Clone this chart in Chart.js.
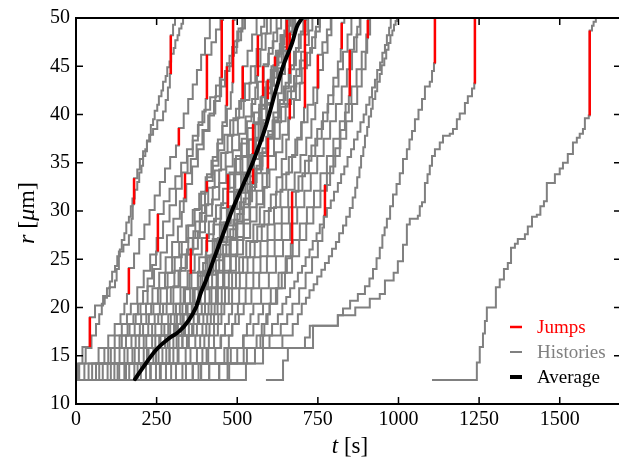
<!DOCTYPE html>
<html>
<head>
<meta charset="utf-8">
<script src="https://cdn.jsdelivr.net/npm/chart.js@4.4.1/dist/chart.umd.min.js"></script>
<style>
html,body{margin:0;padding:0;background:#fff;overflow:hidden}
#wrap{width:624px;height:470px}
</style>
</head>
<body>
<div id="wrap"><canvas id="chart" width="624" height="470"></canvas></div>
<script>
// axis ticks
const xTicks=[0,250,500,750,1000,1250,1500];
const yTicks=[10,15,20,25,30,35,40,45,50];

// average curve
const avgT=[183,208,248,288,319,350,372,388,403,425,456,487,518,549,586,617,642,670,685,701];
const avgR=[12.57,13.8,15.6,16.8,17.5,18.7,20.0,21.6,22.8,24.8,27.6,30.3,32.7,35.1,38.5,42.2,45.0,47.4,49.1,50];

// growth histories: [t, r] or [t, r, 1] when the step is a jump
const h01=[[0,12.5],[6,14.2],[20,15.9],[43,19.0,1],[59,20.2],[84,21.2],[104,22.1],[121,22.8],[126,24.0],[133,25.8],[147,26.5],[164,27.5],[172,29.2],[176,30.7],[180,33.4,1],[190,34.3],[198,35.4],[208,36.2],[220,37.2],[230,37.9],[239,38.5],[252,39.4],[270,40.3],[278,41.5],[285,42.8],[291,44.2],[294,48.2,1],[301,49.3],[307,50]];
const h02=[[0,12.5],[10,14.2],[30,15.8],[48,17.1],[62,18.3],[72,19.3],[80,20.4],[89,21.0],[96,22.0],[105,22.7],[112,23.7],[121,24.3],[128,25.3],[136,26.0],[142,27.0],[150,27.7],[156,28.8],[164,29.4],[170,30.5],[175,31.3],[182,32.2],[190,33.0],[196,34.0],[203,34.7],[208,35.7],[215,36.4],[220,37.3],[227,37.9],[232,38.9],[239,39.5],[244,40.4],[252,41.0],[257,41.9],[265,42.5],[270,43.4],[278,44.0],[283,44.9],[290,45.5],[295,46.3],[303,46.9],[308,47.7],[315,48.2],[320,48.9],[327,49.4],[332,50]];
const h03=[[0,12.5],[26,14.2],[70,15.8],[100,17.1],[120,18.3],[138,19.3],[150,20.4],[158,21.4],[164,24.1,1],[180,25.6],[196,27.1],[212,28.6],[228,30.1],[244,31.6],[260,33.0],[276,34.4],[292,35.6],[310,36.8],[319,38.6,1],[334,40.1],[348,41.6],[362,43.1],[375,44.6],[388,46.2],[400,47.9],[415,50]];
const h04=[[0,12.5],[39,14.2],[88,15.8],[120,17.1],[142,18.3],[158,19.3],[170,20.4],[190,22.1],[210,23.8],[230,25.5],[250,27.2],[270,28.9],[290,30.6],[310,32.3],[328,34.0],[346,35.7],[362,37.3],[378,38.9],[392,40.3],[402,41.6],[406,46.2,1],[420,47.5],[434,48.8],[448,50]];
const h05=[[0,12.5],[50,14.2],[100,15.8],[135,17.1],[160,18.3],[178,19.3],[192,20.4],[208,21.7],[222,23.0],[236,24.4],[248,25.8],[254,29.7,1],[272,31.0],[290,32.3],[308,33.6],[326,35.0],[344,36.4],[362,37.8],[380,39.2],[398,40.5],[416,41.8],[434,43.0],[446,43.8],[452,49.8,1],[456,50]];
const h06=[[0,12.5],[62,14.2],[108,15.8],[142,17.1],[166,18.3],[185,19.3],[200,20.4],[222,22.2],[242,24.0],[262,25.7],[282,27.5],[302,29.2],[322,31.0],[342,32.8],[360,34.6],[378,36.4],[396,38.3],[414,40.1],[432,41.9],[450,43.6],[468,45.3],[484,47.0],[500,48.6],[516,50]];
const h07=[[0,12.5],[72,14.2],[120,15.8],[155,17.1],[182,18.3],[202,19.3],[217,20.4],[237,22.0],[258,23.6],[278,25.2],[298,26.8],[316,28.4],[328,29.9],[334,31.3],[338,33.9,1],[356,35.4],[374,36.9],[392,38.4],[410,39.9],[428,41.4],[446,42.9],[462,44.5],[476,46.1],[490,47.6],[504,48.9],[517,50]];
const h08=[[0,12.5],[83,14.2],[135,15.8],[172,17.1],[198,18.3],[218,19.3],[233,20.4],[254,22.0],[276,23.6],[298,25.2],[320,26.8],[342,28.5],[362,30.1],[382,31.8],[402,33.5],[420,35.2],[438,37.0],[454,38.8],[468,40.6],[480,42.3],[485,43.3],[487,49.8,1],[492,50]];
const h09=[[0,12.5],[98,14.2],[150,15.8],[185,17.1],[208,18.3],[226,19.3],[240,20.4],[262,22.0],[284,23.6],[306,25.2],[328,26.8],[348,28.5],[368,30.2],[388,32.0],[406,33.8],[424,35.6],[440,37.4],[454,39.2],[464,40.9],[468,45.0,1],[484,46.4],[498,47.7],[512,48.9],[524,50]];
const h10=[[0,12.5],[108,14.2],[160,15.8],[196,17.1],[224,18.3],[244,19.3],[260,20.4],[282,22.1],[305,23.8],[326,25.5],[348,27.2],[370,28.9],[390,30.6],[410,32.4],[430,34.2],[450,36.0],[470,37.8],[488,39.6],[506,41.4],[524,43.2],[542,45.0],[560,46.8],[576,48.4],[592,50]];
const h11=[[0,12.5],[119,14.2],[175,15.8],[210,17.1],[236,18.3],[255,19.3],[270,20.4],[294,22.1],[318,23.8],[340,25.5],[362,27.2],[384,28.9],[404,30.7],[424,32.5],[444,34.3],[464,36.1],[484,37.9],[502,39.7],[520,41.5],[538,43.3],[556,45.0],[572,46.7],[588,48.4],[604,50]];
const h12=[[0,12.5],[129,14.2],[182,15.8],[218,17.1],[246,18.3],[266,19.3],[281,20.4],[302,22.2],[323,24.1],[344,26.0],[364,27.9],[384,29.8],[400,32.0],[406,33.1,1],[424,34.7],[442,36.3],[460,37.9],[478,39.4],[496,40.6],[512,41.6],[517,45.0,1],[532,46.6],[546,48.3],[560,50]];
const h13=[[0,12.5],[134,14.2],[195,15.8],[236,17.1],[265,18.3],[286,19.3],[302,20.4],[324,22.1],[346,23.8],[368,25.5],[390,27.2],[412,28.9],[434,30.6],[456,32.3],[476,34.0],[496,35.7],[514,37.5],[530,39.3],[544,41.1],[556,42.8],[561,44.0],[564,48.2,1],[574,49.1],[584,50]];
const h14=[[0,12.5],[150,14.2],[210,15.8],[246,17.1],[274,18.3],[294,19.3],[310,20.4],[334,22.0],[358,23.6],[382,25.2],[404,26.9],[426,28.6],[448,30.3],[470,32.0],[490,33.8],[510,35.6],[530,37.4],[550,39.2],[568,41.0],[586,42.8],[604,44.6],[620,46.4],[636,48.2],[652,50]];
const h15=[[0,12.5],[155,14.2],[220,15.8],[258,17.1],[286,18.3],[306,19.3],[322,20.4],[338,21.9],[352,23.5],[356,26.1,1],[378,27.8],[400,29.5],[422,31.2],[444,32.9],[466,34.6],[486,36.3],[506,38.0],[526,39.8],[546,41.6],[564,43.4],[582,45.2],[598,46.9],[612,48.5],[622,50]];
const h16=[[0,12.5],[165,14.2],[225,15.8],[262,17.1],[292,18.3],[313,19.3],[330,20.4],[354,22.0],[378,23.7],[402,25.4],[424,27.1],[446,28.8],[468,30.5],[490,32.2],[512,34.0],[532,35.8],[552,37.6],[572,39.4],[590,41.2],[608,43.0],[626,44.8],[644,46.6],[660,48.3],[676,50]];
const h17=[[0,12.5],[181,14.2],[240,15.8],[276,17.1],[304,18.3],[324,19.3],[341,20.4],[364,22.0],[386,23.6],[408,25.2],[430,26.9],[452,28.6],[474,30.3],[494,32.0],[514,33.8],[534,35.6],[552,37.4],[566,39.6],[576,41.9],[580,45.0,1],[596,46.3],[610,47.6],[624,48.9],[636,50]];
const h18=[[0,12.5],[191,14.2],[248,15.8],[284,17.1],[310,18.3],[330,19.3],[344,20.4],[368,22.0],[392,23.6],[414,25.3],[436,27.0],[458,28.7],[480,30.4],[500,32.1],[520,33.8],[540,35.5],[558,37.3],[576,39.1],[592,41.0],[606,43.0],[614,45.0],[617,46.0,1],[632,47.3],[646,48.7],[661,50]];
const h19=[[0,12.5],[201,14.2],[256,15.8],[290,17.1],[316,18.3],[334,19.3],[346,20.4],[362,21.9],[378,23.3],[394,24.6],[403,25.8],[406,27.6,1],[428,29.2],[450,30.8],[472,32.4],[494,34.0],[516,35.7],[536,37.4],[556,39.1],[574,40.9],[592,42.7],[608,44.5],[624,46.3],[640,48.1],[655,50]];
const h20=[[0,12.5],[217,14.2],[268,15.8],[302,17.1],[328,18.3],[346,19.3],[359,20.4],[382,22.0],[404,23.6],[426,25.2],[448,26.8],[470,28.5],[492,30.2],[512,31.9],[532,33.6],[552,35.4],[568,37.3],[580,39.4],[592,41.6],[595,43.6,1],[612,45.1],[628,46.6],[644,48.1],[656,49.2],[666,50]];
const h21=[[0,12.5],[232,14.2],[280,15.8],[312,17.1],[334,18.3],[350,19.3],[361,20.4],[380,22.1],[400,23.8],[420,25.5],[440,27.2],[458,28.8],[468,30.3],[471,33.8,1],[492,35.4],[512,37.0],[532,38.6],[552,40.2],[572,41.8],[590,43.4],[606,45.0],[620,46.6],[634,48.2],[651,50]];
const h22=[[0,12.5],[248,14.2],[290,15.8],[318,17.1],[338,18.3],[352,19.3],[362,20.4],[386,21.9],[410,23.4],[434,24.9],[456,26.5],[478,28.1],[500,29.7],[520,31.3],[540,33.0],[560,34.7],[578,36.5],[596,38.3],[612,40.2],[626,42.2],[638,44.2],[648,46.0],[652,46.7],[654,49.8,1],[658,50]];
const h23=[[0,12.5],[263,14.2],[302,15.8],[330,17.1],[350,18.3],[365,19.3],[377,20.4],[400,22.1],[422,23.8],[444,25.5],[466,27.3],[488,29.1],[508,30.9],[526,32.8],[540,34.6],[546,35.9],[549,39.0,1],[568,40.6],[586,42.2],[604,43.8],[622,45.4],[638,47.0],[654,48.6],[671,50]];
const h24=[[0,12.5],[279,14.2],[318,15.8],[344,17.1],[364,18.3],[378,19.3],[390,20.4],[414,22.0],[436,23.6],[456,25.3],[476,27.0],[496,28.7],[516,30.4],[536,32.1],[555,33.9],[574,35.7],[592,37.5],[610,39.3],[627,41.1],[644,42.9],[660,44.7],[676,46.5],[691,48.3],[705,50]];
const h25=[[0,12.5],[230,14.2],[290,15.8],[330,17.1],[360,18.3],[382,19.3],[400,20.4],[420,22.1],[440,23.8],[460,25.5],[480,27.2],[500,28.9],[520,30.7],[540,32.5],[559,34.3],[578,36.1],[596,37.9],[614,39.7],[632,41.5],[650,43.3],[666,45.1],[682,46.9],[697,48.6],[712,50]];
const h26=[[0,12.5],[260,14.2],[315,15.8],[350,17.1],[375,18.3],[395,19.3],[411,20.4],[434,22.1],[456,23.8],[478,25.5],[500,27.3],[520,29.1],[538,31.0],[546,32.8],[549,34.4,1],[570,36.0],[590,37.7],[610,39.4],[628,41.1],[646,42.7],[660,44.2],[663,48.5,1],[672,49.3],[680,50]];
const h27=[[0,12.5],[295,14.2],[340,15.8],[370,17.1],[392,18.3],[407,19.3],[420,20.4],[440,22.0],[460,23.6],[480,25.3],[500,27.0],[520,28.7],[540,30.4],[560,32.1],[578,33.9],[596,35.7],[614,37.5],[632,39.3],[650,41.1],[667,42.9],[683,44.7],[698,46.5],[710,48.3],[720,50]];
const h28=[[0,12.5],[310,14.2],[355,15.8],[385,17.1],[404,18.3],[418,19.3],[430,20.4],[452,22.1],[474,23.8],[496,25.5],[518,27.2],[540,28.9],[560,30.7],[580,32.5],[600,34.3],[620,36.1],[640,37.9],[658,39.7],[676,41.5],[694,43.3],[710,45.1],[726,46.9],[742,48.6],[756,50]];
const h29=[[0,12.5],[341,14.2],[375,15.8],[398,17.1],[414,18.3],[428,19.3],[439,20.4],[462,22.0],[484,23.6],[506,25.2],[528,26.9],[550,28.6],[570,30.4],[584,32.4],[592,34.4],[595,37.6,1],[616,39.2],[636,40.8],[656,42.4],[676,44.0],[694,45.6],[710,47.2],[722,48.7],[733,50]];
const h30=[[0,12.5],[362,14.2],[392,15.8],[412,17.1],[428,18.3],[441,19.3],[451,20.4],[474,22.0],[496,23.6],[518,25.2],[540,26.8],[562,28.4],[584,30.0],[604,31.7],[622,33.5],[638,35.4],[652,37.4],[660,39.5],[663,41.6,1],[682,43.2],[700,44.8],[716,46.4],[732,48.0],[744,49.1],[756,50]];
const h31=[[0,12.5],[388,14.2],[410,15.8],[428,17.1],[440,18.3],[451,19.3],[460,20.4],[484,22.0],[508,23.6],[532,25.2],[554,26.9],[576,28.6],[598,30.3],[620,32.0],[640,33.8],[660,35.6],[680,37.4],[700,39.2],[718,41.0],[736,42.8],[752,44.6],[766,46.4],[780,48.2],[792,50]];
const h32=[[0,12.5],[413,14.2],[432,15.8],[448,17.1],[462,18.3],[474,19.3],[484,20.4],[506,22.0],[528,23.6],[550,25.2],[572,26.9],[594,28.6],[614,30.4],[634,32.2],[652,34.0],[670,35.8],[686,37.6],[698,39.2],[707,40.7],[710,49.8,1],[714,50]];
const h33=[[0,12.5],[444,14.2],[460,15.8],[474,17.1],[485,18.3],[494,19.3],[502,20.4],[526,22.0],[550,23.6],[572,25.3],[594,27.0],[616,28.7],[638,30.4],[658,32.2],[678,34.0],[696,35.8],[714,37.6],[730,39.5],[742,41.2],[748,42.7],[750,46.2,1],[764,47.5],[778,48.8],[790,50]];
const h34=[[0,12.5],[330,14.2],[405,15.8],[450,17.1],[484,18.3],[505,19.3],[520,20.4],[544,22.0],[568,23.6],[592,25.3],[616,27.0],[638,28.7],[660,30.4],[682,32.1],[702,33.9],[722,35.7],[742,37.5],[762,39.3],[780,41.1],[798,42.9],[814,44.7],[828,46.5],[842,48.3],[854,50]];
const h35=[[0,12.5],[475,14.2],[500,15.8],[518,17.1],[530,18.3],[541,19.3],[550,20.4],[574,22.0],[598,23.6],[620,25.3],[642,27.0],[664,28.7],[686,30.4],[708,32.1],[728,33.9],[748,35.7],[768,37.5],[788,39.3],[806,41.1],[824,42.9],[840,44.7],[856,46.5],[870,48.3],[882,50]];
const h36=[[0,12.5],[388,14.2],[470,15.8],[520,17.1],[550,18.3],[566,19.3],[580,20.4],[604,22.0],[628,23.6],[650,25.3],[672,27.0],[694,28.7],[716,30.4],[738,32.1],[758,33.9],[778,35.7],[798,37.5],[818,39.3],[836,41.1],[854,42.9],[870,44.7],[886,46.5],[900,48.3],[912,50]];
const h37=[[0,12.5],[470,14.2],[530,15.8],[560,17.1],[576,18.3],[590,19.3],[600,20.4],[624,22.0],[648,23.6],[670,25.3],[692,27.0],[714,28.7],[736,30.4],[758,32.1],[778,33.9],[798,35.7],[818,37.5],[838,39.3],[856,41.1],[872,42.9],[886,44.7],[898,46.4],[903,47.9],[905,49.8,1],[910,50]];
const h38=[[0,12.5],[527,14.2],[555,15.8],[572,17.1],[584,18.3],[594,19.3],[601,20.4],[620,22.0],[638,23.6],[654,25.1],[666,26.6],[670,32.0,1],[690,33.6],[710,35.2],[730,36.8],[748,38.5],[766,40.2],[782,42.0],[798,43.8],[812,45.5],[821,46.8],[824,49.5,1],[832,50]];
const h39=[[0,12.5],[444,14.2],[520,15.8],[580,17.1],[608,18.3],[626,19.3],[640,20.4],[652,21.1],[664,22.0],[677,22.7],[688,23.6],[701,24.3],[712,25.2],[724,26.0],[734,26.9],[746,27.7],[756,28.6],[768,29.4],[778,30.3],[790,31.1],[800,32.0],[812,32.9],[822,33.8],[832,34.6],[842,35.6],[853,36.4],[862,37.4],[873,38.2],[882,39.2],[892,40.0],[900,41.0],[910,41.8],[918,42.8],[927,43.6],[934,44.6],[943,45.4],[950,46.4],[958,47.2],[964,48.2],[971,49.0],[976,50]];
const h40=[[0,12.5],[362,14.2],[480,15.8],[600,17.1],[635,18.3],[655,19.3],[671,20.4],[692,22.0],[712,23.6],[732,25.2],[750,26.9],[764,28.3],[769,29.5],[772,32.7,1],[788,34.6],[804,36.5],[820,38.4],[834,40.2],[846,41.9],[849,46.7,1],[862,48.0],[872,49.1],[880,50]];
const h41=[[0,12.5],[413,14.2],[580,15.8],[640,17.1],[672,18.3],[688,19.3],[700,20.4],[713,21.0],[724,21.8],[737,22.4],[748,23.2],[761,23.9],[772,24.6],[784,25.3],[794,26.1],[806,26.8],[816,27.7],[828,28.5],[838,29.4],[849,30.3],[858,31.4],[866,32.4],[872,33.5],[879,34.5],[884,35.7],[891,36.6],[896,37.8],[903,38.7],[908,39.8],[915,40.6],[920,41.6],[928,42.4],[934,43.4],[942,44.2],[948,45.1],[956,45.8],[962,46.7],[969,47.4],[975,48.2],[981,48.7],[986,49.3],[991,49.7],[995,50]];
const farA=[[589,12.5],[642,14.5],[657,15.8],[710,16.9],[725,18.1],[812,19.2],[828,19.9],[850,20.7],[874,21.4],[896,22.2],[910,23.0],[921,24.0],[932,25.1],[942,26.2],[950,27.5],[957,28.3],[964,29.2],[974,30.5],[983,31.7],[994,32.8],[1004,33.9],[1014,35.4],[1026,36.4],[1034,37.4],[1042,38.3],[1051,39.5],[1062,40.5],[1073,41.6],[1082,42.9],[1097,43.4],[1104,44.5],[1110,45.3],[1113,50,1]];
const farB=[[0,12.5],[380,14.2],[470,15.8],[735,18.1],[812,19.2],[866,20.0],[911,20.9],[942,21.4],[958,22.8],[985,23.6],[998,24.8],[1014,26.5],[1026,28.6],[1035,29.2],[1060,29.5],[1066,30.5],[1073,30.9],[1082,32.9],[1090,33.8],[1097,34.7],[1104,35.7],[1113,36.4],[1128,37.1],[1138,37.8],[1159,38.0],[1169,38.5],[1181,39.5],[1190,40.1],[1206,41.2],[1215,41.9],[1228,42.7],[1235,43.2],[1237,50,1]];
const farC=[[1104,12.5],[1243,14.3],[1252,15.9],[1262,17.3],[1268,18.6],[1274,20.0],[1302,22.1],[1314,22.9],[1327,24.0],[1339,24.6],[1349,26.2],[1361,26.6],[1370,27.1],[1392,27.6],[1401,28.4],[1414,29.4],[1429,29.6],[1440,30.5],[1451,31.0],[1460,32.9],[1485,33.8],[1500,34.4],[1510,35.0],[1525,35.9],[1541,37.1],[1553,37.6],[1562,38.0],[1572,38.5],[1578,39.6],[1590,39.9],[1593,48.7,1],[1600,49.2],[1605,49.6],[1612,50]];

const histories=[h01,h02,h03,h04,h05,h06,h07,h08,h09,h10,h11,h12,h13,h14,h15,h16,h17,h18,h19,h20,
  h21,h22,h23,h24,h25,h26,h27,h28,h29,h30,h31,h32,h33,h34,h35,h36,h37,h38,h39,h40,h41,farA,farB,farC];

const GRAY='#808080', RED='#ff0000', FONT='"Liberation Serif","DejaVu Serif",serif';
Chart.defaults.font.family=FONT;

const xy=p=>({x:p[0],y:p[1]});
const datasets=[];
datasets.push({label:'Average',data:avgT.map((t,i)=>({x:t,y:avgR[i]})),borderColor:'#000',borderWidth:4,
  tension:0.4,cubicInterpolationMode:'monotone',borderCapStyle:'round',order:0});
histories.forEach(h=>{
  datasets.push({label:'Histories',data:h.map(xy),borderColor:GRAY,borderWidth:2,stepped:true,order:2});
  for(let i=1;i<h.length;i++){
    if(h[i][2]) datasets.push({label:'Jumps',data:[{x:h[i][0],y:h[i-1][1]},{x:h[i][0],y:h[i][1]}],borderColor:RED,borderWidth:2.5,order:1});
  }
});

// spines, inward ticks, axis titles and legend
const frame={
  id:'frame',
  afterDraw(chart){
    const {ctx,chartArea:a,scales:{x,y}}=chart;
    ctx.save();
    ctx.strokeStyle='#000';
    ctx.lineWidth=1.5;
    ctx.beginPath();
    xTicks.forEach(v=>{const px=x.getPixelForValue(v);ctx.moveTo(px,a.bottom);ctx.lineTo(px,a.bottom-7);ctx.moveTo(px,a.top);ctx.lineTo(px,a.top+7);});
    yTicks.forEach(v=>{const py=y.getPixelForValue(v);ctx.moveTo(a.left,py);ctx.lineTo(a.left+7,py);ctx.moveTo(a.right,py);ctx.lineTo(a.right-7,py);});
    ctx.stroke();
    ctx.lineWidth=2;
    ctx.strokeRect(a.left,a.top,a.right-a.left,a.bottom-a.top);

    // x title: t [s]
    ctx.fillStyle='#000';
    ctx.textBaseline='alphabetic';
    ctx.font='italic 23px '+FONT;
    const wt=ctx.measureText('t').width;
    ctx.font='23px '+FONT;
    const ws=ctx.measureText(' [s]').width;
    const sx=350-(wt+ws)/2;
    ctx.font='italic 23px '+FONT; ctx.fillText('t',sx,453);
    ctx.font='23px '+FONT; ctx.fillText(' [s]',sx+wt,453);

    // y title: r [μm]
    ctx.save();
    ctx.translate(34,213);
    ctx.rotate(-Math.PI/2);
    const parts=[['r',true],[' [',false],['μ',true],['m]',false]];
    let tot=0;
    parts.forEach(p=>{ctx.font=(p[1]?'italic ':'')+'24px '+FONT;tot+=ctx.measureText(p[0]).width;});
    let cx=-tot/2;
    parts.forEach(p=>{ctx.font=(p[1]?'italic ':'')+'24px '+FONT;ctx.fillText(p[0],cx,0);cx+=ctx.measureText(p[0]).width;});
    ctx.restore();

    // legend
    const items=[['Jumps',RED,2.5,327],['Histories',GRAY,2,352],['Average','#000',4,377]];
    ctx.font='19px '+FONT;
    ctx.textBaseline='middle';
    items.forEach(it=>{
      ctx.strokeStyle=it[1];ctx.lineWidth=it[2];
      ctx.beginPath();ctx.moveTo(510,it[3]);ctx.lineTo(522,it[3]);ctx.stroke();
      ctx.fillStyle=it[1];ctx.fillText(it[0],537,it[3]+1);
    });
    ctx.restore();
  }
};

new Chart(document.getElementById('chart'),{
  type:'line',
  data:{datasets},
  options:{
    responsive:false,animation:false,devicePixelRatio:1,
    layout:{padding:{top:15,right:3,left:0,bottom:0}},
    plugins:{legend:{display:false},tooltip:{enabled:false}},
    elements:{point:{radius:0}},
    scales:{
      x:{type:'linear',min:0,max:1690,
        grid:{display:false,drawTicks:false},border:{display:false},
        ticks:{padding:4,color:'#000',font:{size:20},callback:v=>String(v),maxRotation:0},
        afterBuildTicks:s=>{s.ticks=xTicks.map(v=>({value:v}));},
        afterFit:s=>{s.height=66;}},
      y:{type:'linear',min:10,max:50,
        grid:{display:false,drawTicks:false},border:{display:false},
        ticks:{padding:6,color:'#000',font:{size:20},callback:v=>String(v)},
        afterBuildTicks:s=>{s.ticks=yTicks.map(v=>({value:v}));},
        afterFit:s=>{s.width=76;}}
    }
  },
  plugins:[frame]
});
</script>
</body>
</html>
